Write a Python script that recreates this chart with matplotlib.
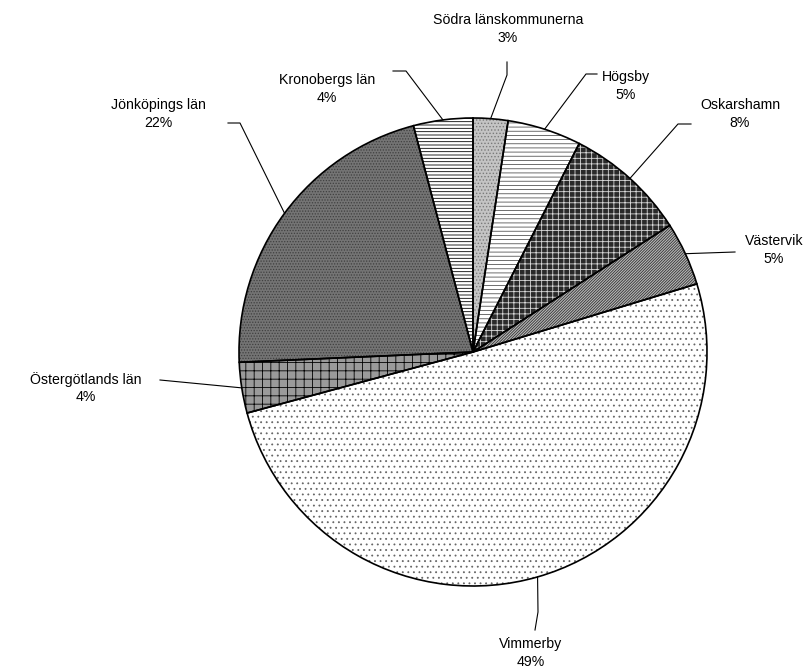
import numpy as np
import matplotlib
matplotlib.use("Agg")
import matplotlib.pyplot as plt

plt.rcParams['font.family'] = ['Liberation Sans', 'DejaVu Sans']
plt.rcParams['hatch.linewidth'] = 0.6

# data, clockwise from 12 o'clock
names = ["Södra länskommunerna", "Högsby", "Oskarshamn", "Västervik",
         "Vimmerby", "Östergötlands län", "Jönköpings län", "Kronobergs län"]
shares = [2.4, 5.1, 8.4, 4.4, 50.5, 3.5, 21.6, 4.1]   # slice sizes
pct_labels = ["3%", "5%", "8%", "5%", "49%", "4%", "22%", "4%"]

# fill style per slice: face colour, hatch, hatch colour
faces = ["#c4c4c4", "white", "#2a2a2a", "#b8b8b8", "white", "#9a9a9a", "#747474", "white"]
hatches = [".....", "----", "+++", "////////////", "...", "++", "......", "-----"]
hatch_cols = ["#7a7a7a", "#555555", "#d8d8d8", "#333333", "#666666", "black", "#404040", "black"]

# label centres and leader elbows in pixel coords (y from top)
label_pos = [(508, 29), (626, 86), (740, 114), (774, 250),
             (531, 653), (86, 388), (158, 114), (327, 89)]
leader_pts = [[(507, 62), (507, 75)], [(597, 74), (586, 74)],
              [(691, 124), (678, 124)], [(735, 252)],
              [(535, 630), (538, 612)], [(160, 380)],
              [(228, 123), (240, 123)], [(393, 71), (406, 71)]]

W, H = 812, 671
cx, cy, r = 473, 352, 234


def fy(y):
    return H - y


fig = plt.figure(figsize=(W / 100, H / 100), dpi=100)
ax = fig.add_axes([0, 0, 1, 1])

wedges, _ = ax.pie(shares, startangle=90, counterclock=False,
                   center=(cx, fy(cy)), radius=r, frame=True)
for w, fc, h, hc in zip(wedges, faces, hatches, hatch_cols):
    w.set_facecolor(fc)
    w.set_hatch(h)
    w.set_edgecolor(hc)
    w.set_linewidth(0)

# outlines on top
ax.pie(shares, startangle=90, counterclock=False,
       center=(cx, fy(cy)), radius=r, frame=True,
       wedgeprops=dict(fill=False, edgecolor='black', linewidth=1.2))
ax.set_xlim(0, W)
ax.set_ylim(0, H)
ax.set_aspect('equal')
ax.axis('off')

for w, name, pct, (lx, ly), pts in zip(wedges, names, pct_labels, label_pos, leader_pts):
    mid = np.deg2rad((w.theta1 + w.theta2) / 2)
    ex = cx + r * np.cos(mid)
    ey = fy(cy) + r * np.sin(mid)
    xs = [p[0] for p in pts] + [ex]
    ys = [fy(p[1]) for p in pts] + [ey]
    ax.plot(xs, ys, color='black', linewidth=0.8)
    ax.text(lx, fy(ly), name + "\n" + pct, ha='center', va='center',
            fontsize=10.2, linespacing=1.3)

fig.savefig("out.png", dpi=100)
